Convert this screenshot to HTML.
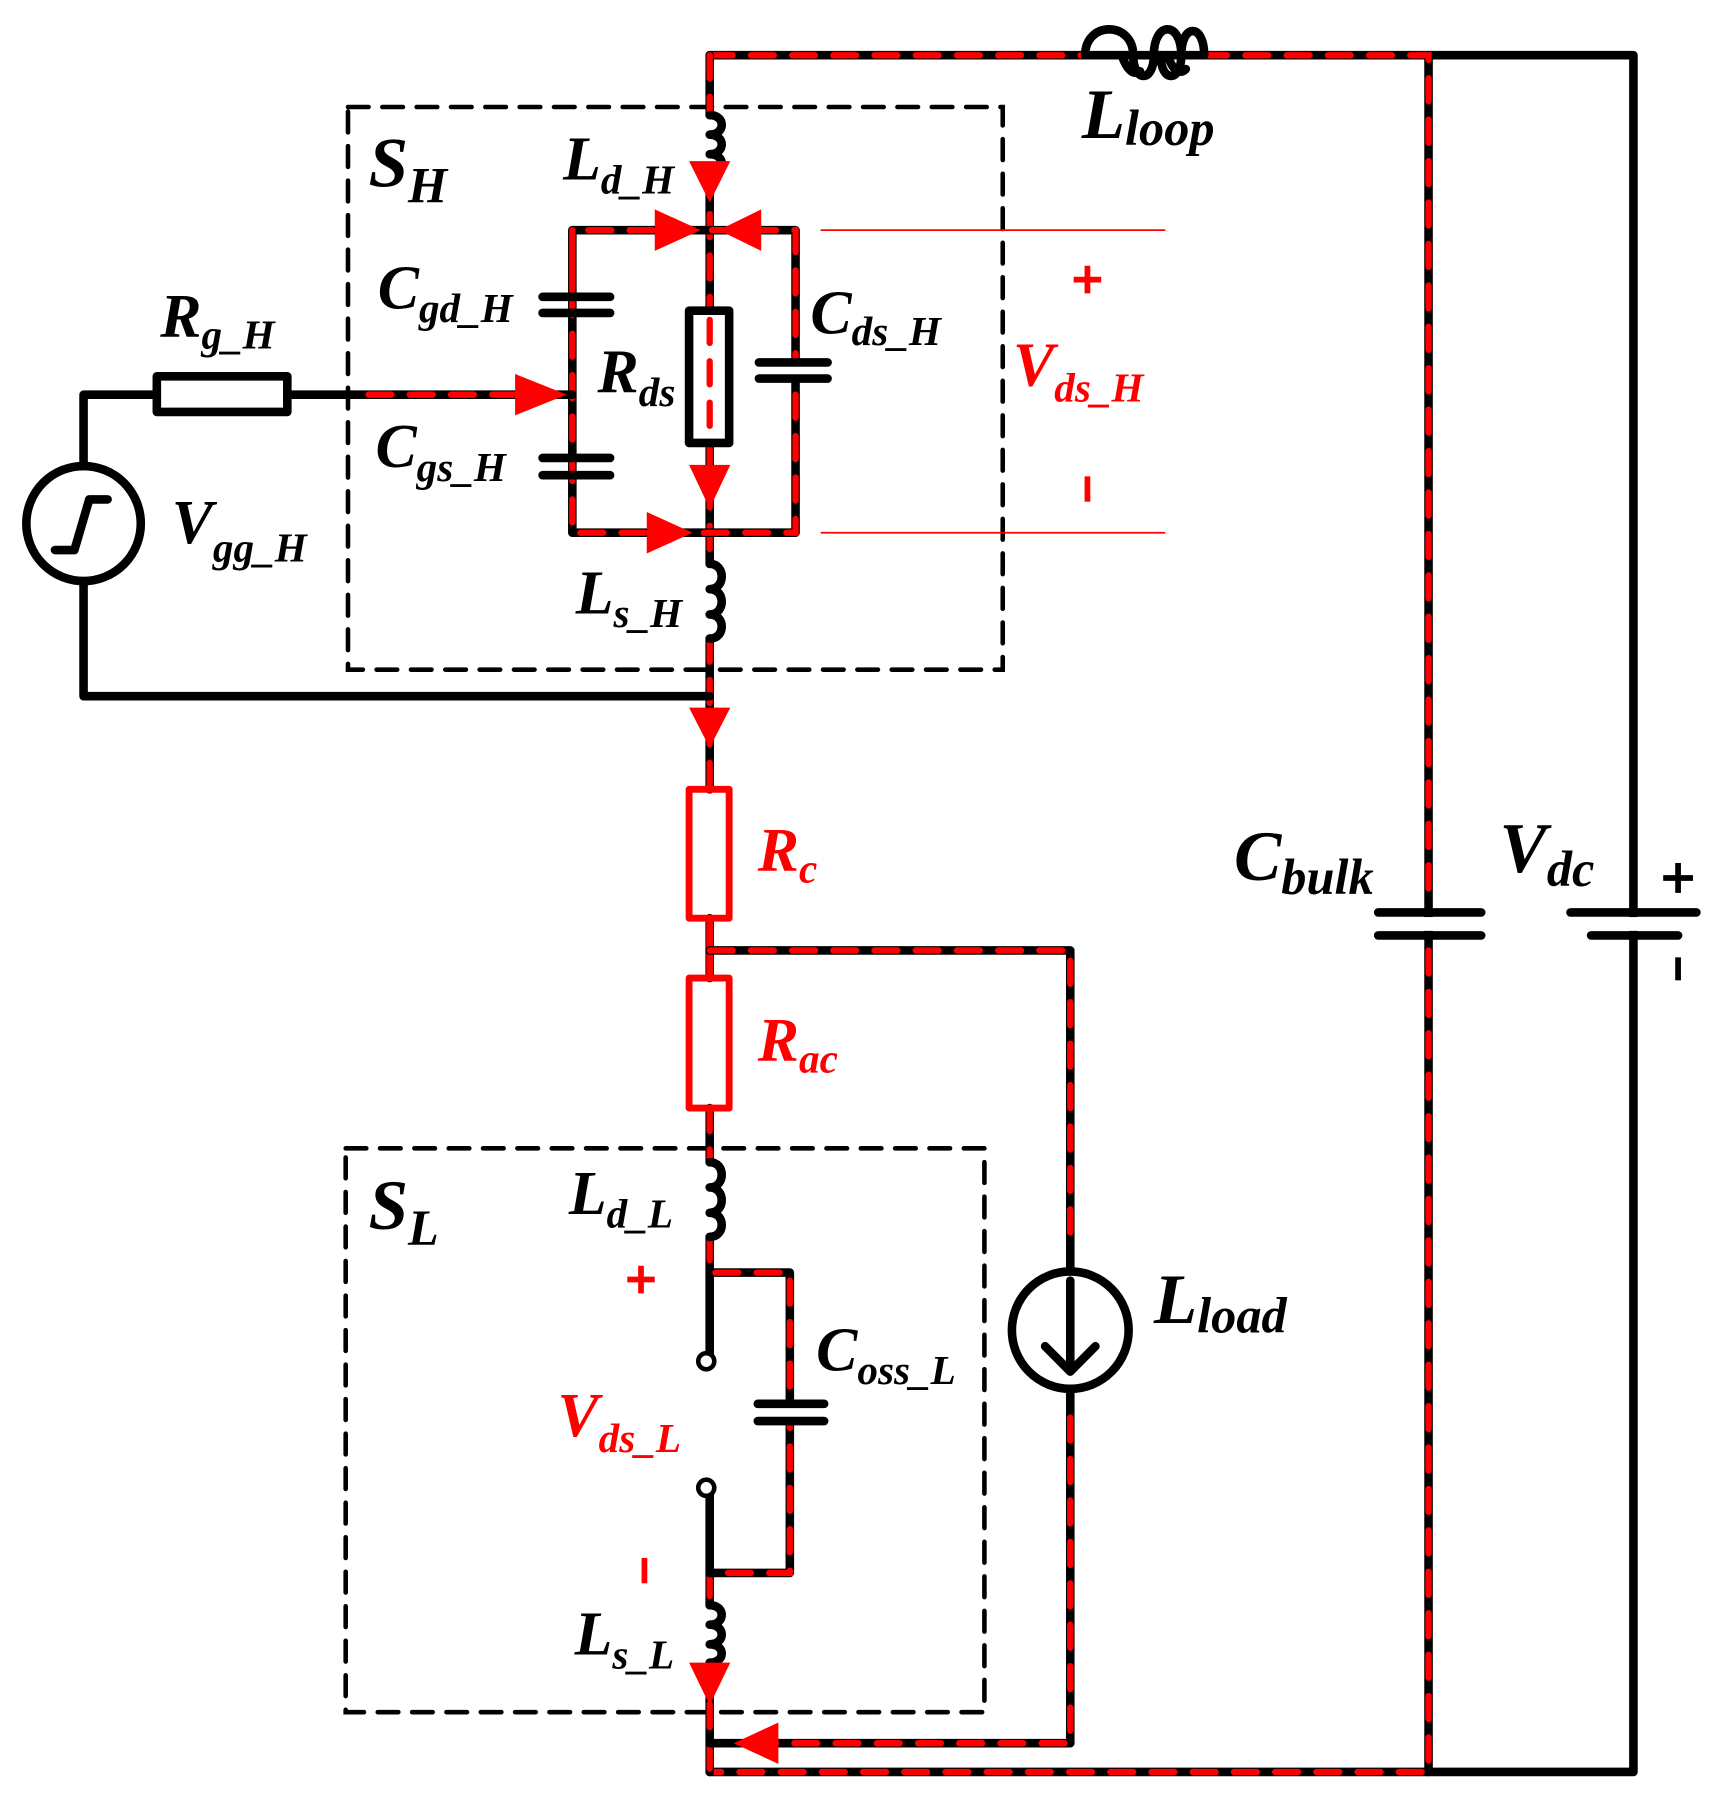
<!DOCTYPE html>
<html><head><meta charset="utf-8"><style>
html,body{margin:0;padding:0;background:#fff;}
svg{display:block;}
text{font-family:"Liberation Serif",serif;font-style:italic;font-weight:bold;}
</style></head><body>
<svg width="1717" height="1795" viewBox="0 0 1500 1560" preserveAspectRatio="none" xmlns="http://www.w3.org/2000/svg">
<defs>
<style>
.b{stroke:#000;stroke-width:7.5;fill:none;stroke-linecap:round;stroke-linejoin:round}
.r{stroke:#f00;stroke-width:5.5;fill:none;stroke-dasharray:20 16;stroke-linecap:round}
.rs{stroke:#f00;stroke-width:6;fill:none;stroke-linejoin:round}
.d{stroke:#000;stroke-width:4;fill:none;stroke-dasharray:18 12;stroke-linecap:round}
.t{stroke:#f00;stroke-width:1.5}
.a{fill:#f00}
</style>
</defs>
<rect x="304" y="93" width="572" height="489" class="d"/>
<rect x="302" y="998" width="558" height="490" class="d"/>

<path class="b" d="M620 48 H1427 V1540 H620"/>
<path class="b" d="M1248 48 V1540"/>
<path class="r" d="M620 48 H948 M1052 48 H1248 V780 M1248 826 V1540 H620"/>
<path d="M948 48 C948 18 990 18 990 48 C990 72 1008 72 1008 48 C1008 18 1032 18 1032 48 C1032 72 1014 72 1014 48 M1032 48 C1032 20 1052 20 1052 48" class="b"/>
<path d="M980 48 C984 60 990 66 996 62 M1020 48 C1024 60 1030 66 1036 60" class="b"/>
<rect x="1243" y="797" width="10" height="12" fill="#fff"/>
<path class="b" d="M1204 793 H1294 M1204 813 H1294"/>
<rect x="1420" y="797" width="14" height="12" fill="#fff"/>
<path class="b" d="M1372 793 H1482 M1390 813 H1466"/>
<path d="M1453 763 H1479 M1466 750 V776" stroke="#000" stroke-width="5"/>
<path d="M1466 832 V852" stroke="#000" stroke-width="5"/>

<path class="b" d="M620 48 V100 M620 150 V270 M620 385 V490 M620 555 V686 M620 798 V850 M620 963 V1010 M620 1075 V1183 M620 1293 V1395 M620 1445 V1540"/>
<path class="r" d="M620 48 V100 M620 150 V270 M620 385 V490 M620 555 V686 M620 963 V1010 M620 1075 V1106 M620 1367 V1395 M620 1445 V1540"/>
<path class="b" d="M620 100 c14 0 14 17 0 17 c14 0 14 17 0 17 c14 0 14 16 0 16"/>
<path class="b" d="M620 490 c14 0 14 22 0 22 c14 0 14 22 0 22 c14 0 14 21 0 21"/>
<path class="b" d="M620 1010 c14 0 14 22 0 22 c14 0 14 22 0 22 c14 0 14 21 0 21"/>
<path class="b" d="M620 1395 c14 0 14 17 0 17 c14 0 14 17 0 17 c14 0 14 16 0 16"/>
<rect x="602" y="270" width="35" height="115" class="b"/>
<path class="r" d="M620 278 V378"/>
<rect x="602" y="686" width="35" height="112" class="rs"/>
<rect x="602" y="850" width="35" height="113" class="rs"/>
<path class="rs" d="M620 798 V850"/>

<path class="b" d="M500 200 H695 V463 H500 Z"/>
<path class="r" d="M500 258 V200 H695 V463 H500 V200"/>
<path class="b" d="M474 258 H533 M474 272 H533 M474 398 H533 M474 413 H533"/>
<rect x="690" y="318" width="10" height="8" fill="#fff"/>
<path class="b" d="M663 315 H723 M663 329 H723"/>

<path class="b" d="M73 405 V343 H137 M251 343 H500 M73 505 V605 H620"/>
<rect x="137" y="327" width="114" height="31" class="b" fill="#fff"/>
<path class="r" d="M322 343 H455"/>
<circle cx="73" cy="455" r="50" class="b"/>
<path class="b" d="M48 478 H65 L78 434 H94"/>

<path class="b" d="M620 826 H935 V1105 M935 1207 V1515 H620"/>
<path class="r" d="M620 826 H935 V1075 M935 1232 V1515 H665"/>
<circle cx="935" cy="1156" r="51" class="b"/>
<path class="b" d="M935 1113 V1192 M913 1170 L935 1192 L957 1170"/>

<path class="b" d="M620 1106 H690 V1367 H620"/>
<path class="r" d="M625 1106 H690 V1367 H625"/>
<rect x="685" y="1223" width="10" height="9" fill="#fff"/>
<path class="b" d="M662 1220 H720 M662 1235 H720"/>
<circle cx="617" cy="1183" r="7" fill="#fff" stroke="#000" stroke-width="4"/>
<circle cx="617" cy="1293" r="7" fill="#fff" stroke="#000" stroke-width="4"/>

<polygon class="a" points="602,140 638,140 620,176"/>
<polygon class="a" points="572,182 572,218 612,200"/>
<polygon class="a" points="665,182 665,218 628,200"/>
<polygon class="a" points="450,325 450,361 495,343"/>
<polygon class="a" points="602,404 638,404 620,442"/>
<polygon class="a" points="565,445 565,481 605,463"/>
<polygon class="a" points="602,615 638,615 620,650"/>
<polygon class="a" points="602,1445 638,1445 620,1482"/>
<polygon class="a" points="680,1497 680,1533 641,1515"/>

<path class="t" d="M717 200 H1018 M717 463 H1018"/>
<path d="M938 243 H962 M950 231 V255" stroke="#f00" stroke-width="5"/>
<path d="M950 414 V436" stroke="#f00" stroke-width="5"/>
<path d="M548 1112 H572 M560 1100 V1124" stroke="#f00" stroke-width="5"/>
<path d="M563 1354 V1376" stroke="#f00" stroke-width="5"/>

<g font-size="62">
<text x="322" y="162">S<tspan font-size="44" dy="14">H</tspan></text>
<text x="322" y="1068">S<tspan font-size="44" dy="14">L</tspan></text>
</g>
<g font-size="54">
<text x="492" y="156">L<tspan font-size="36" dy="12">d_H</tspan></text>
<text x="330" y="268">C<tspan font-size="36" dy="12">gd_H</tspan></text>
<text x="140" y="293">R<tspan font-size="36" dy="10">g_H</tspan></text>
<text x="522" y="341">R<tspan font-size="36" dy="12">ds</tspan></text>
<text x="328" y="406">C<tspan font-size="36" dy="12">gs_H</tspan></text>
<text x="150" y="472">V<tspan font-size="36" dy="16">gg_H</tspan></text>
<text x="503" y="533">L<tspan font-size="36" dy="12">s_H</tspan></text>
<text x="708" y="290">C<tspan font-size="36" dy="10">ds_H</tspan></text>
<text x="885" y="335" fill="#f00">V<tspan font-size="36" dy="14">ds_H</tspan></text>
<text x="497" y="1055">L<tspan font-size="36" dy="12">d_L</tspan></text>
<text x="713" y="1191">C<tspan font-size="36" dy="12">oss_L</tspan></text>
<text x="487" y="1248" fill="#f00">V<tspan font-size="36" dy="14">ds_L</tspan></text>
<text x="502" y="1438">L<tspan font-size="36" dy="12">s_L</tspan></text>
<text x="662" y="757" fill="#f00">R<tspan font-size="36" dy="10">c</tspan></text>
<text x="662" y="922" fill="#f00">R<tspan font-size="36" dy="10">ac</tspan></text>
</g>
<g font-size="62">
<text x="945" y="120">L<tspan font-size="44" dy="6">loop</tspan></text>
<text x="1078" y="765">C<tspan font-size="44" dy="12">bulk</tspan></text>
<text x="1310" y="758">V<tspan font-size="44" dy="12">dc</tspan></text>
<text x="1008" y="1150">L<tspan font-size="44" dy="8">load</tspan></text>
</g>
</svg>
</body></html>
